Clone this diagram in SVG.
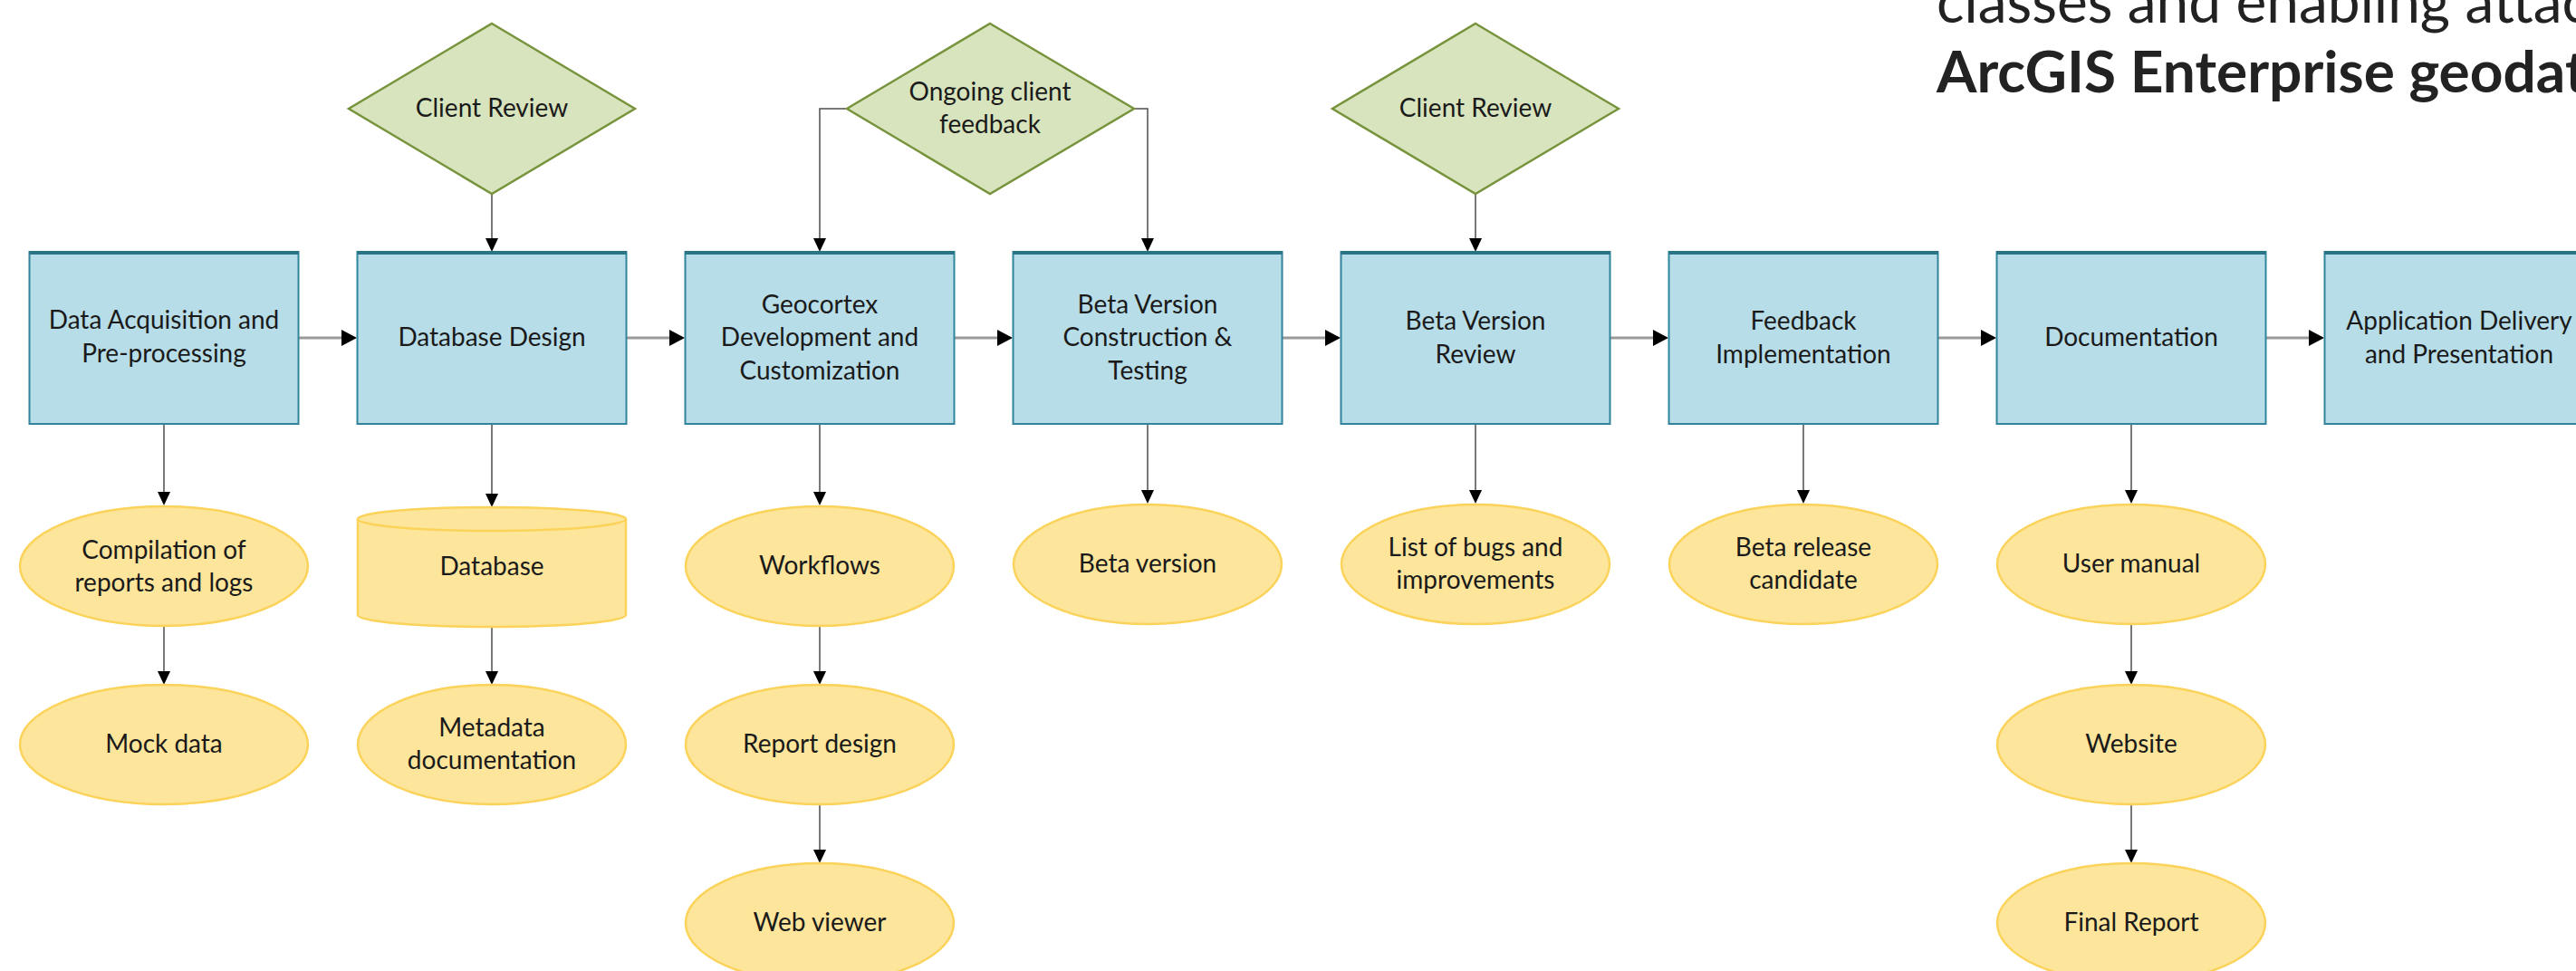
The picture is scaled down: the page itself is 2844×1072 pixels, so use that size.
<svg xmlns="http://www.w3.org/2000/svg" width="2844" height="1072" viewBox="0 0 2844 1072">
  <style>
    .step { fill: #b7dde8; stroke: #31849b; stroke-width: 2; }
    .stepTop { stroke: #2b7488; stroke-width: 4; }
    .review { fill: #d7e4bd; stroke: #77933c; stroke-width: 2.5; }
    .out { fill: #fde59b; stroke: #fbd35a; stroke-width: 2.5; }
    .lbl { font-family: Lato, "Liberation Sans", sans-serif; font-size: 28px; fill: #1a1a1a; text-anchor: middle; }
    .flow { stroke: #9a9a9a; stroke-width: 3; fill: none; }
    .drop { stroke: #4d4d4d; stroke-width: 1.5; fill: none; }
    .head { fill: #000; }
    .title { font-family: Lato, "Liberation Sans", sans-serif; font-size: 64px; fill: #222; }
  </style>

  <!-- heading fragment at the top right -->
  <text class="title" x="2138" y="25">classes and enabling attac</text>
  <text class="title" x="2138" y="102" font-weight="bold">ArcGIS Enterprise geodat</text>

  <!-- connectors -->
  <g id="connectors">
    <!-- main flow between steps -->
    <path class="flow" d="M329.5,373 H378"/><polygon class="head" points="377,364 394,373 377,382"/>
    <path class="flow" d="M691.5,373 H740"/><polygon class="head" points="739,364 756,373 739,382"/>
    <path class="flow" d="M1053.5,373 H1102"/><polygon class="head" points="1101,364 1118,373 1101,382"/>
    <path class="flow" d="M1415.5,373 H1464"/><polygon class="head" points="1463,364 1480,373 1463,382"/>
    <path class="flow" d="M1777.5,373 H1826"/><polygon class="head" points="1825,364 1842,373 1825,382"/>
    <path class="flow" d="M2139.5,373 H2188"/><polygon class="head" points="2187,364 2204,373 2187,382"/>
    <path class="flow" d="M2501.5,373 H2550"/><polygon class="head" points="2549,364 2566,373 2549,382"/>

    <!-- reviews feeding into steps -->
    <path class="drop" d="M543,214 V264"/><polygon class="head" points="536,263 550,263 543,278"/>
    <path class="drop" d="M935,120 H905 V264"/><polygon class="head" points="898,263 912,263 905,278"/>
    <path class="drop" d="M1252,120 H1267 V264"/><polygon class="head" points="1260,263 1274,263 1267,278"/>
    <path class="drop" d="M1629,214 V264"/><polygon class="head" points="1622,263 1636,263 1629,278"/>

    <!-- step outputs, first row -->
    <path class="drop" d="M181,468 V544"/><polygon class="head" points="174,543 188,543 181,558"/>
    <path class="drop" d="M543,468 V546"/><polygon class="head" points="536,545 550,545 543,560"/>
    <path class="drop" d="M905,468 V544"/><polygon class="head" points="898,543 912,543 905,558"/>
    <path class="drop" d="M1267,468 V542"/><polygon class="head" points="1260,541 1274,541 1267,556"/>
    <path class="drop" d="M1629,468 V542"/><polygon class="head" points="1622,541 1636,541 1629,556"/>
    <path class="drop" d="M1991,468 V542"/><polygon class="head" points="1984,541 1998,541 1991,556"/>
    <path class="drop" d="M2353,468 V542"/><polygon class="head" points="2346,541 2360,541 2353,556"/>

    <!-- second and third rows -->
    <path class="drop" d="M181,690 V742"/><polygon class="head" points="174,741 188,741 181,756"/>
    <path class="drop" d="M543,692 V742"/><polygon class="head" points="536,741 550,741 543,756"/>
    <path class="drop" d="M905,690 V742"/><polygon class="head" points="898,741 912,741 905,756"/>
    <path class="drop" d="M905,888 V939"/><polygon class="head" points="898,938 912,938 905,953"/>
    <path class="drop" d="M2353,689 V742"/><polygon class="head" points="2346,741 2360,741 2353,756"/>
    <path class="drop" d="M2353,888 V939"/><polygon class="head" points="2346,938 2360,938 2353,953"/>
  </g>

  <!-- review decisions -->
  <g id="review-1">
    <polygon class="review" points="543,26 701,120 543,214 385,120"/>
    <text class="lbl" x="543" y="129">Client Review</text>
  </g>
  <g id="review-2">
    <polygon class="review" points="1093,26 1252,120 1093,214 935,120"/>
    <text class="lbl" x="1093" y="111">Ongoing client</text>
    <text class="lbl" x="1093" y="147">feedback</text>
  </g>
  <g id="review-3">
    <polygon class="review" points="1629,26 1787,120 1629,214 1471,120"/>
    <text class="lbl" x="1629" y="129">Client Review</text>
  </g>

  <!-- project steps -->
  <g id="step-1">
    <rect class="step" x="32.5" y="278" width="297" height="190"/>
    <line class="stepTop" x1="32.5" y1="279" x2="329.5" y2="279"/>
    <text class="lbl" x="181" y="363">Data Acquisition and</text>
    <text class="lbl" x="181" y="400">Pre-processing</text>
  </g>
  <g id="step-2">
    <rect class="step" x="394.5" y="278" width="297" height="190"/>
    <line class="stepTop" x1="394.5" y1="279" x2="691.5" y2="279"/>
    <text class="lbl" x="543" y="382">Database Design</text>
  </g>
  <g id="step-3">
    <rect class="step" x="756.5" y="278" width="297" height="190"/>
    <line class="stepTop" x1="756.5" y1="279" x2="1053.5" y2="279"/>
    <text class="lbl" x="905" y="346">Geocortex</text>
    <text class="lbl" x="905" y="382">Development and</text>
    <text class="lbl" x="905" y="419">Customization</text>
  </g>
  <g id="step-4">
    <rect class="step" x="1118.5" y="278" width="297" height="190"/>
    <line class="stepTop" x1="1118.5" y1="279" x2="1415.5" y2="279"/>
    <text class="lbl" x="1267" y="346">Beta Version</text>
    <text class="lbl" x="1267" y="382">Construction &amp;</text>
    <text class="lbl" x="1267" y="419">Testing</text>
  </g>
  <g id="step-5">
    <rect class="step" x="1480.5" y="278" width="297" height="190"/>
    <line class="stepTop" x1="1480.5" y1="279" x2="1777.5" y2="279"/>
    <text class="lbl" x="1629" y="364">Beta Version</text>
    <text class="lbl" x="1629" y="401">Review</text>
  </g>
  <g id="step-6">
    <rect class="step" x="1842.5" y="278" width="297" height="190"/>
    <line class="stepTop" x1="1842.5" y1="279" x2="2139.5" y2="279"/>
    <text class="lbl" x="1991" y="364">Feedback</text>
    <text class="lbl" x="1991" y="401">Implementation</text>
  </g>
  <g id="step-7">
    <rect class="step" x="2204.5" y="278" width="297" height="190"/>
    <line class="stepTop" x1="2204.5" y1="279" x2="2501.5" y2="279"/>
    <text class="lbl" x="2353" y="382">Documentation</text>
  </g>
  <g id="step-8">
    <rect class="step" x="2566.5" y="278" width="297" height="190"/>
    <line class="stepTop" x1="2566.5" y1="279" x2="2863.5" y2="279"/>
    <text class="lbl" x="2715" y="364">Application Delivery</text>
    <text class="lbl" x="2715" y="401">and Presentation</text>
  </g>

  <!-- deliverables -->
  <g id="out-compilation">
    <ellipse class="out" cx="181" cy="625" rx="159" ry="66"/>
    <text class="lbl" x="181" y="617">Compilation of</text>
    <text class="lbl" x="181" y="653">reports and logs</text>
  </g>
  <g id="out-mock">
    <ellipse class="out" cx="181" cy="822" rx="159" ry="66"/>
    <text class="lbl" x="181" y="831">Mock data</text>
  </g>
  <g id="out-database">
    <path class="out" d="M395,573 V679 A148,13 0 0 0 691,679 V573 A148,13 0 0 0 395,573 Z"/>
    <path class="out" d="M395,573 A148,13 0 0 0 691,573" fill="none"/>
    <text class="lbl" x="543" y="635">Database</text>
  </g>
  <g id="out-metadata">
    <ellipse class="out" cx="543" cy="822" rx="148" ry="66"/>
    <text class="lbl" x="543" y="813">Metadata</text>
    <text class="lbl" x="543" y="849">documentation</text>
  </g>
  <g id="out-workflows">
    <ellipse class="out" cx="905" cy="625" rx="148" ry="66"/>
    <text class="lbl" x="905" y="634">Workflows</text>
  </g>
  <g id="out-report">
    <ellipse class="out" cx="905" cy="822" rx="148" ry="66"/>
    <text class="lbl" x="905" y="831">Report design</text>
  </g>
  <g id="out-viewer">
    <ellipse class="out" cx="905" cy="1019" rx="148" ry="66"/>
    <text class="lbl" x="905" y="1028">Web viewer</text>
  </g>
  <g id="out-beta">
    <ellipse class="out" cx="1267" cy="623" rx="148" ry="66"/>
    <text class="lbl" x="1267" y="632">Beta version</text>
  </g>
  <g id="out-bugs">
    <ellipse class="out" cx="1629" cy="623" rx="148" ry="66"/>
    <text class="lbl" x="1629" y="614">List of bugs and</text>
    <text class="lbl" x="1629" y="650">improvements</text>
  </g>
  <g id="out-candidate">
    <ellipse class="out" cx="1991" cy="623" rx="148" ry="66"/>
    <text class="lbl" x="1991" y="614">Beta release</text>
    <text class="lbl" x="1991" y="650">candidate</text>
  </g>
  <g id="out-manual">
    <ellipse class="out" cx="2353" cy="623" rx="148" ry="66"/>
    <text class="lbl" x="2353" y="632">User manual</text>
  </g>
  <g id="out-website">
    <ellipse class="out" cx="2353" cy="822" rx="148" ry="66"/>
    <text class="lbl" x="2353" y="831">Website</text>
  </g>
  <g id="out-final">
    <ellipse class="out" cx="2353" cy="1019" rx="148" ry="66"/>
    <text class="lbl" x="2353" y="1028">Final Report</text>
  </g>
</svg>
